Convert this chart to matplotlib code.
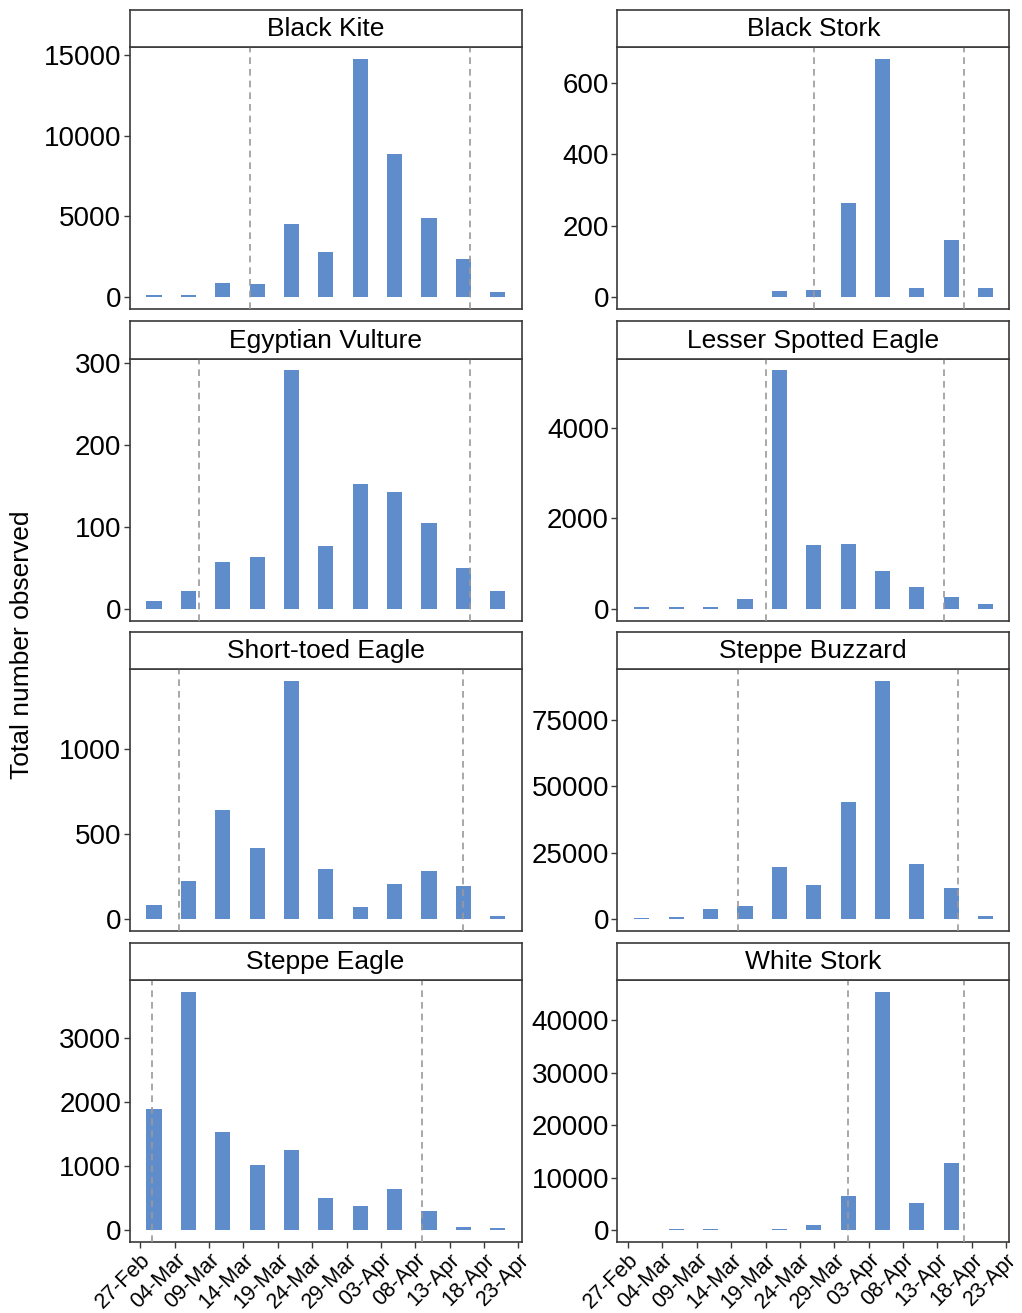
import matplotlib
matplotlib.use("Agg")
import matplotlib.pyplot as plt
import matplotlib.dates as mdates
import pandas as pd

plt.rcParams['font.family'] = ['Liberation Sans', 'DejaVu Sans']

# 5-day bins (bar centres)
bin_dates = ['2019-03-01', '2019-03-06', '2019-03-11', '2019-03-16', '2019-03-21', '2019-03-26',
             '2019-03-31', '2019-04-05', '2019-04-10', '2019-04-15', '2019-04-20']
tick_dates = ['2019-02-27', '2019-03-04', '2019-03-09', '2019-03-14', '2019-03-19', '2019-03-24',
              '2019-03-29', '2019-04-03', '2019-04-08', '2019-04-13', '2019-04-18', '2019-04-23']

species = ['Black Kite', 'Black Stork', 'Egyptian Vulture', 'Lesser Spotted Eagle',
           'Short-toed Eagle', 'Steppe Buzzard', 'Steppe Eagle', 'White Stork']

black_kite = [100, 160, 900, 820, 4525, 2780, 14750, 8850, 4880, 2350, 310]
black_stork = [0, 0, 0, 0, 16, 19, 264, 668, 25, 159, 25]
egyptian_vulture = [9, 22, 57, 63, 291, 77, 152, 143, 104, 50, 22]
lesser_spotted_eagle = [44, 44, 44, 206, 5282, 1407, 1422, 832, 479, 265, 110]
short_toed_eagle = [82, 224, 643, 418, 1402, 294, 73, 206, 284, 192, 18]
steppe_buzzard = [400, 900, 3763, 4890, 19566, 12793, 44023, 89677, 20820, 11539, 1254]
steppe_eagle = [1893, 3718, 1529, 1014, 1248, 504, 380, 634, 291, 52, 26]
white_stork = [0, 250, 250, 0, 300, 950, 6540, 45400, 5080, 12700, 0]

counts = [black_kite, black_stork, egyptian_vulture, lesser_spotted_eagle,
          short_toed_eagle, steppe_buzzard, steppe_eagle, white_stork]

# dashed lines: start / end of passage window
window_start = ['2019-03-15', '2019-03-26', '2019-03-07 14:00', '2019-03-19',
                '2019-03-04 16:00', '2019-03-15', '2019-02-28 17:00', '2019-03-31']
window_end = ['2019-04-16', '2019-04-16 19:00', '2019-04-16', '2019-04-14',
              '2019-04-15', '2019-04-16', '2019-04-09', '2019-04-16 19:00']

y_ticks = [[0, 5000, 10000, 15000], [0, 200, 400, 600], [0, 100, 200, 300], [0, 2000, 4000],
           [0, 500, 1000], [0, 25000, 50000, 75000], [0, 1000, 2000, 3000],
           [0, 10000, 20000, 30000, 40000]]

bar_color = '#5f8dcc'
edge_col = '#3a3a3a'

W, H = 1022, 1313
fig = plt.figure(figsize=(W / 100, H / 100), dpi=100)


def px_axes(x0, y0, x1, y1):
    return fig.add_axes([x0 / W, 1 - y1 / H, (x1 - x0) / W, (y1 - y0) / H])


col_x = [(129.5, 521.5), (617.3, 1009.3)]
row_top = [47, 358.5, 669, 980]
plot_h = 262
strip_h = 37.5

x = mdates.date2num(pd.to_datetime(bin_dates))
xt = mdates.date2num(pd.to_datetime(tick_dates))
xlo = xt[0] - 1.57
xhi = xt[-1] + 0.45

for i, name in enumerate(species):
    r, c = divmod(i, 2)
    x0, x1 = col_x[c]
    top = row_top[r]

    ax = px_axes(x0, top, x1, top + plot_h)
    vals = counts[i]
    ax.bar(x, vals, width=2.2, color=bar_color, zorder=2)
    for d in (window_start[i], window_end[i]):
        ax.axvline(mdates.date2num(pd.Timestamp(d)), color='#9a9a9a', linestyle=(0, (4, 3)),
                   linewidth=1.2, zorder=3)
    vmax = max(vals)
    ax.set_ylim(-0.05 * vmax, 1.05 * vmax)
    ax.set_xlim(xlo, xhi)
    ax.set_yticks(y_ticks[i])
    ax.set_yticklabels([str(v) for v in y_ticks[i]])
    ax.tick_params(axis='y', labelsize=20, length=4, width=1, color=edge_col, pad=2)
    ax.set_xticks(xt)
    if r == 3:
        ax.set_xticklabels([pd.Timestamp(d).strftime('%d-%b') for d in tick_dates],
                           rotation=45, ha='right', rotation_mode='anchor')
        ax.tick_params(axis='x', labelsize=15.5, length=4, width=1, color=edge_col, pad=1.5)
    else:
        ax.tick_params(axis='x', labelbottom=False, length=0)
    for s in ax.spines.values():
        s.set_color(edge_col)
        s.set_linewidth(1.2)

    sax = px_axes(x0, top - strip_h, x1, top)
    sax.set_xticks([])
    sax.set_yticks([])
    for s in sax.spines.values():
        s.set_color(edge_col)
        s.set_linewidth(1.2)
    sax.text(0.5, 0.47, name, ha='center', va='center', fontsize=19, transform=sax.transAxes)

fig.text(22 / W, 1 - 645 / H, 'Total number observed', rotation=90, ha='center', va='center',
         fontsize=19)

fig.savefig('out.png', dpi=100)
